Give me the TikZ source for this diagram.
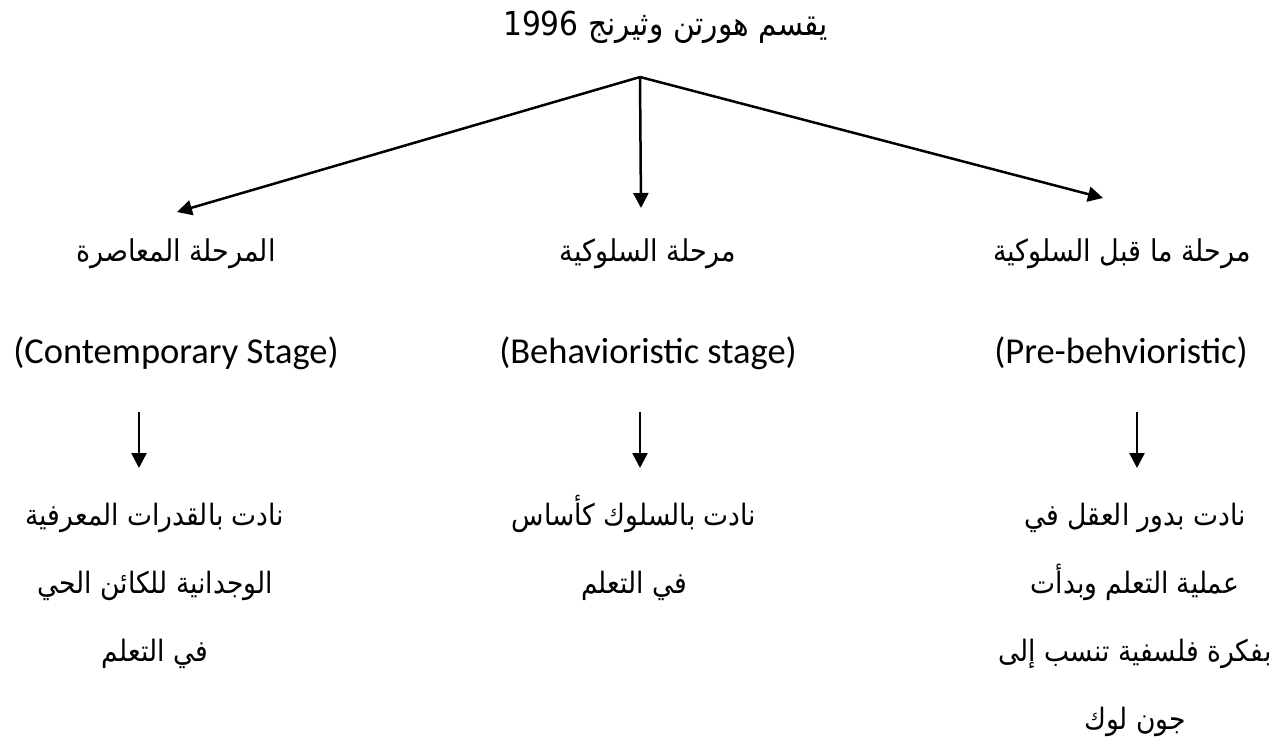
\documentclass[tikz,border=0pt]{standalone}
\usepackage{fontspec}
\usetikzlibrary{arrows.meta}
\TeXXeTstate=1
\newfontfamily\arabicfont[Script=Arabic, FakeStretch=0.9]{DejaVu Sans}
\newfontfamily\latinfont{Carlito}
\newcommand\rtlline[1]{\beginR #1\endR}

\begin{document}
\begin{tikzpicture}[x=1pt,y=-1pt,
  arr/.style={line width=2.5pt, -{Triangle[length=15pt,width=15pt]}},
  title/.style={font=\arabicfont\fontsize{33}{40}\selectfont, inner sep=0, anchor=base west},
  stage/.style={font=\arabicfont\fontsize{30}{36}\selectfont, inner sep=0, anchor=base},
  eng/.style={font=\latinfont\fontsize{36.5}{42}\selectfont, inner sep=0, anchor=base},
  desc/.style={font=\arabicfont\fontsize{29.5}{68}\selectfont, align=center, inner sep=0, anchor=base}]
\useasboundingbox (0,0) rectangle (1278,747);

% title and the point the three branches leave from
\node[title] (title) at (503,35) {\rtlline{يقسم هورتن وثيرنج \beginL 1996\endL}};
\coordinate (apex) at (640,77);
\coordinate (tipL) at (177,212);
\coordinate (tipM) at (641,208);
\coordinate (tipR) at (1103,198);
\draw[arr] (apex) -- (tipL);
\draw[arr] (apex) -- (tipM);
\draw[arr] (apex) -- (tipR);

% stage names
\node[stage] (stL) at (176,261) {\rtlline{المرحلة المعاصرة}};
\node[stage] (stM) at (648,261) {\rtlline{مرحلة السلوكية}};
\node[stage] (stR) at (1122,261) {\rtlline{مرحلة ما قبل السلوكية}};

% English names
\node[eng] (enL) at (176,363) {(Contemporary Stage)};
\node[eng] (enM) at (648,363) {(Behavioristic stage)};
\node[eng] (enR) at (1121,363) {(Pre-behvioristic)};

% short arrows down to the descriptions
\coordinate (aL1) at (139,412); \coordinate (aL2) at (139,468);
\coordinate (aM1) at (640,412); \coordinate (aM2) at (640,468);
\coordinate (aR1) at (1137,412); \coordinate (aR2) at (1137,468);
\draw[arr] (aL1) -- (aL2);
\draw[arr] (aM1) -- (aM2);
\draw[arr] (aR1) -- (aR2);

% descriptions (anchored on the baseline of their last line)
\node[desc] (dsL) at (155,661) {\rtlline{نادت بالقدرات المعرفية}\\\rtlline{الوجدانية للكائن الحي}\\\rtlline{في التعلم}};
\node[desc] (dsM) at (634,593) {\rtlline{نادت بالسلوك كأساس}\\\rtlline{في التعلم}};
\node[desc] (dsR) at (1135,729) {\rtlline{نادت بدور العقل في}\\\rtlline{عملية التعلم وبدأت}\\\rtlline{بفكرة فلسفية تنسب إلى}\\\rtlline{جون لوك}};
\end{tikzpicture}
\end{document}
